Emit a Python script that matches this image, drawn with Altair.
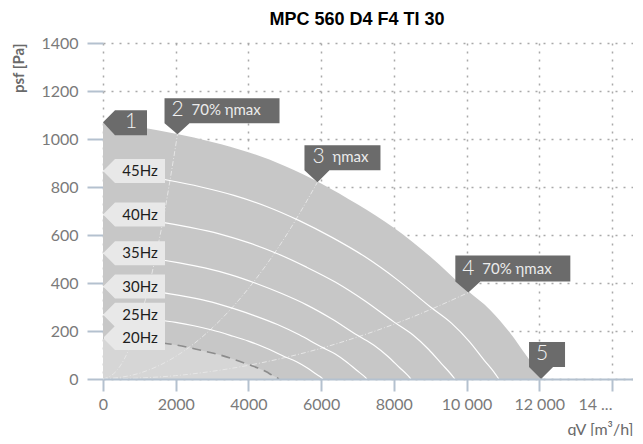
import altair as alt
import pandas as pd

# ---------------- data ----------------
title_text = "MPC 560 D4 F4 TI 30"
x_title = "qV [m³/h]"
y_title = "psf [Pa]"

x_ticks = [0, 2000, 4000, 6000, 8000, 10000, 12000, 14000]
y_ticks = [0, 200, 400, 600, 800, 1000, 1200, 1400]

# outer envelope (50 Hz)
q_50 = [0, 1000, 2000, 3000, 4000, 5000, 6000, 7000, 8000, 9000, 10000, 10650, 11200, 11660, 11940, 12100]
p_50 = [1070, 1050, 1022, 988, 945, 888, 815, 728, 630, 510, 372, 288, 192, 95, 38, 0]

q_45 = [0, 900, 1800, 2700, 3600, 4500, 5400, 6300, 7200, 8100, 9000, 9585, 10080, 10494, 10746, 10890]
p_45 = [867, 851, 828, 800, 765, 719, 660, 590, 510, 413, 301, 233, 156, 77, 31, 0]

q_40 = [0, 800, 1600, 2400, 3200, 4000, 4800, 5600, 6400, 7200, 8000, 8520, 8960, 9328, 9552, 9680]
p_40 = [685, 672, 654, 632, 605, 568, 522, 466, 403, 326, 238, 184, 123, 61, 24, 0]

q_35 = [0, 700, 1400, 2100, 2800, 3500, 4200, 4900, 5600, 6300, 7000, 7455, 7840, 8162, 8358, 8470]
p_35 = [524, 515, 501, 484, 463, 435, 399, 357, 309, 250, 182, 141, 94, 47, 19, 0]

q_30 = [0, 600, 1200, 1800, 2400, 3000, 3600, 4200, 4800, 5400, 6000, 6390, 6720, 6996, 7164, 7260]
p_30 = [385, 378, 368, 356, 340, 320, 293, 262, 227, 184, 134, 104, 69, 34, 14, 0]

q_25 = [0, 500, 1000, 1500, 2000, 2500, 3000, 3500, 4000, 4500, 5000, 5325, 5600, 5830, 5970, 6050]
p_25 = [268, 263, 256, 247, 236, 222, 204, 182, 158, 128, 93, 72, 48, 24, 10, 0]

q_20 = [0, 400, 800, 1200, 1600, 2000, 2400, 2800, 3200, 3600, 4000, 4260, 4480, 4664, 4776, 4840]
p_20 = [171, 168, 164, 158, 151, 142, 130, 116, 101, 82, 60, 46, 31, 15, 6, 0]

# system curves (efficiency lines)
q_sys2 = [0, 400, 800, 1200, 1600, 2050]
p_sys2 = [0, 39, 155, 350, 621, 1020]
q_sys3 = [0, 1000, 2000, 3000, 4000, 5000, 5900]
p_sys3 = [0, 24, 94, 212, 377, 589, 820]
q_sys4 = [0, 1000, 2000, 3000, 4000, 5000, 6000, 7000, 8000, 9000, 10050]
p_sys4 = [0, 4, 14, 32, 57, 89, 128, 175, 228, 289, 360]

hz_names = ["45Hz", "40Hz", "35Hz", "30Hz", "25Hz", "20Hz"]
hz_p = [867, 685, 524, 385, 268, 171]

tag_num = ["1", "2", "3", "4", "5"]
tag_text = ["", "70% ηmax", "ηmax", "70% ηmax", ""]
tag_q = [0, 2050, 5900, 10050, 12050]
tag_p = [1070, 1020, 820, 360, 0]

# ---------------- styles ----------------
tag_shapes = [
    "M0,0 L12,-12 L44,-12 L44,13 L12,13 Z",
    "M0,0 L-13,-11 L-13,-36 L102,-36 L102,-11 L12,-11 Z",
    "M0,0 L-13,-12 L-13,-37 L63,-37 L63,-12 L12,-12 Z",
    "M0,0 L-13,-11 L-13,-37 L102,-37 L102,-11 L12,-11 Z",
    "M0,0 L-12,-12 L-12,-37 L24,-37 L24,-12 L12,-12 Z",
]
tag_num_off = [(28, 0), (0, -24), (1, -25), (0, -24), (1, -25)]
tag_txt_off = [(0, 0), (14, -24), (15, -25), (14, -24), (0, 0)]
hz_shape = "M0,0 L12,-12 L62,-12 L62,12 L12,12 Z"

FONT = "Lato"
XS = alt.Scale(domain=[0, 14580], nice=False, zero=False)
YS = alt.Scale(domain=[0, 1400], nice=False)
AXC = "#b4c1cf"
GRIDC = "#a9a9a9"


def curve_df(qs, ps, name):
    return pd.DataFrame({"q": qs, "p": ps, "curve": name})


speed_df = pd.concat([
    curve_df(q_45, p_45, "45"), curve_df(q_40, p_40, "40"), curve_df(q_35, p_35, "35"),
    curve_df(q_30, p_30, "30"), curve_df(q_25, p_25, "25"),
])
sys_df = pd.concat([
    curve_df(q_sys2, p_sys2, "2"), curve_df(q_sys3, p_sys3, "3"), curve_df(q_sys4, p_sys4, "4"),
])
outer_df = curve_df(q_50, p_50, "50")
low_df = curve_df(q_20, p_20, "20")
hz_df = pd.DataFrame({"q": [0] * len(hz_names), "p": hz_p, "name": hz_names})

grid_x_axis = alt.Axis(values=x_ticks, grid=True, gridColor=GRIDC, gridDash=[2, 6], gridWidth=1.5,
                       domain=False, ticks=False, labels=False, title=None, orient="bottom", zindex=0)
main_x_axis = alt.Axis(
    values=x_ticks, grid=False, domain=True, domainColor=AXC, domainWidth=2,
    ticks=True, tickColor=AXC, tickWidth=2, tickSize=12, labelPadding=5,
    labelFont=FONT, labelFontSize=16, labelColor="#7a7a7a",
    labelExpr="datum.value == 14000 ? '14 ...' : (datum.value >= 10000 ? replace(format(datum.value, ','), ',', ' ') : format(datum.value, 'd'))",
    labelAlign={"expr": "datum.value == 14000 ? 'right' : 'center'"},
    title=x_title, titleFont=FONT, titleFontSize=16, titleFontWeight="normal", titleColor="#6a6a6a",
    titleX=530, titleY=55, titleAlign="right", titleBaseline="alphabetic",
    orient="bottom", zindex=1)
y_axis = alt.Axis(
    values=y_ticks, grid=True, gridColor=GRIDC, gridDash=[2, 6], gridWidth=1.5,
    domain=False, ticks=True, tickColor=AXC, tickWidth=2, tickSize=16, labelPadding=9,
    labelFont=FONT, labelFontSize=16, labelColor="#7a7a7a", format="d",
    title=y_title, titleFont=FONT, titleFontSize=15, titleFontWeight="bold", titleColor="#6a6a6a",
    titleX=-85, titleY=0, titleAngle=-90, titleAlign="right", titleBaseline="middle",
    orient="left", zindex=0)


def X(axis=None):
    return alt.X("q:Q", scale=XS, axis=axis)


def Y(axis=None):
    return alt.Y("p:Q", scale=YS, axis=axis)


layers = []
layers.append(alt.Chart(outer_df).mark_area(color="#c7c7c7", interpolate="monotone")
              .encode(x=X(grid_x_axis), y=Y(y_axis)))
layers.append(alt.Chart(low_df).mark_area(color="#d6d6d6", interpolate="monotone")
              .encode(x=X(), y=Y()))
layers.append(alt.Chart(sys_df).mark_line(color="#e6e6e6", strokeWidth=1, strokeDash=[5, 2, 1, 2], interpolate="monotone")
              .encode(x=X(), y=Y(), detail="curve:N"))
layers.append(alt.Chart(speed_df).mark_line(color="#ffffff", strokeWidth=1.2, interpolate="monotone")
              .encode(x=X(main_x_axis), y=Y(), detail="curve:N"))
layers.append(alt.Chart(low_df).mark_line(color="#8c8c8c", strokeWidth=1.6, strokeDash=[9, 6], interpolate="monotone")
              .encode(x=X(), y=Y()))

# speed labels
layers.append(alt.Chart(hz_df).mark_point(shape=hz_shape, filled=True, size=4, color="#e8e8e8", opacity=1, strokeWidth=0)
              .encode(x=X(), y=Y()))
layers.append(alt.Chart(hz_df).mark_text(align="center", baseline="middle", dx=37, dy=0, font=FONT, fontSize=15, color="#1e1e1e")
              .encode(x=X(), y=Y(), text="name:N"))

# tags
for i in range(len(tag_num)):
    tdf = pd.DataFrame({"q": [tag_q[i]], "p": [tag_p[i]], "num": [tag_num[i]], "txt": [tag_text[i]]})
    layers.append(alt.Chart(tdf).mark_point(shape=tag_shapes[i], filled=True, size=4, color="#6b6b6b", opacity=1, strokeWidth=0)
                  .encode(x=X(), y=Y()))
    layers.append(alt.Chart(tdf).mark_text(align="center", baseline="middle", dx=tag_num_off[i][0], dy=tag_num_off[i][1],
                                           font=FONT, fontSize=21, fontWeight=300, color="#f2f2f2")
                  .encode(x=X(), y=Y(), text="num:N"))
    if tag_text[i]:
        layers.append(alt.Chart(tdf).mark_text(align="left", baseline="middle", dx=tag_txt_off[i][0], dy=tag_txt_off[i][1],
                                               font=FONT, fontSize=15, color="#ececec")
                      .encode(x=X(), y=Y(), text="txt:N"))

chart = (
    alt.layer(*layers)
    .resolve_axis(x="independent", y="independent")
    .properties(
        width=530, height=336,
        title=alt.TitleParams(title_text, font="Liberation Sans", fontSize=18, fontWeight="bold", color="#000000",
                              anchor="middle", frame="group", dx=-11, dy=-2),
        padding={"left": 95, "top": 35, "right": 0, "bottom": 57},
        autosize=alt.AutoSizeParams(type="none"),
    )
    .configure_view(stroke=None)
)

chart.save("out.html", embed_options={"renderer": "svg", "actions": False})
